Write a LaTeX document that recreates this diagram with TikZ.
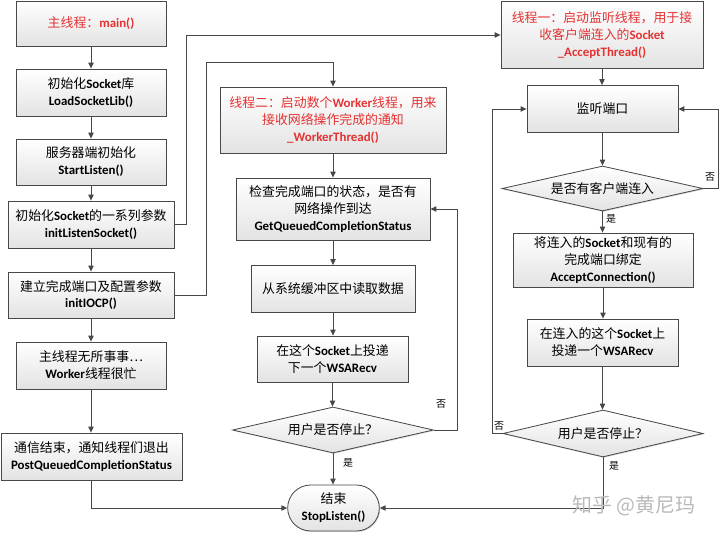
\documentclass[tikz,border=0pt]{standalone}
\usepackage{fontspec}
\setmainfont{Noto Sans CJK SC}
\newfontfamily\carl{Carlito}
\usetikzlibrary{shapes.geometric,shapes.misc,arrows.meta,shadows}

\definecolor{redtxt}{RGB}{228,50,50}
\definecolor{edge}{RGB}{72,72,72}
\newcommand{\en}[1]{{\carl\bfseries #1}}

\tikzset{
  box/.style={draw=edge, line width=0.7pt, top color=white, bottom color=gray!22,
    align=center, inner sep=1pt, font={\fontsize{11}{14.5}\selectfont},
    drop shadow={shadow xshift=0.8pt, shadow yshift=-0.8pt, fill=black, opacity=0.15}},
  wh/.style 2 args={minimum width=#1*0.03cm, minimum height=#2*0.03cm},
  dia/.style={box, diamond, aspect=4.5, inner sep=0pt},
  term/.style={box, rounded rectangle},
  conn/.style={draw=edge, line width=0.7pt, ->},
  lbl/.style={font={\fontsize{8.5}{10}\selectfont}, inner sep=0pt}
}

\begin{document}
\begin{tikzpicture}[x=0.03cm,y=-0.03cm,>={Triangle[length=5pt,width=4.5pt]}]
  \useasboundingbox (0,0) rectangle (720,533);

  % main thread
  \node[box, wh={150}{45}, text=redtxt] (main) at (91,23.5) {主线程：\en{main()}};
  \node[box, wh={150}{47}] (lib) at (91,92.5) {初始化\en{Socket}库\\\en{LoadSocketLib()}};
  \node[box, wh={150}{46}] (start) at (91,162) {服务器端初始化\\\en{StartListen()}};
  \node[box, wh={166}{47}] (initsk) at (91,224.5) {初始化\en{Socket}的一系列参数\\\en{initListenSocket()}};
  \node[box, wh={166}{46}] (iocp) at (91,295) {建立完成端口及配置参数\\\en{initIOCP()}};
  \node[box, wh={150}{47}] (idle) at (91,365.5) {主线程无所事事…\\\en{Worker}线程很忙};
  \node[box, wh={181}{47}] (post) at (91.5,456.5) {通信结束，通知线程们退出\\\en{PostQueuedCompletionStatus}};

  % worker thread
  \node[box, wh={226}{66}, text=redtxt] (worker) at (333,120) {线程二：启动数个\en{Worker}线程，用来\\接收网络操作完成的通知\\\en{\_WorkerThread()}};
  \node[box, wh={194}{62}] (getq) at (333,209) {检查完成端口的状态，是否有\\网络操作到达\\\en{GetQueuedCompletionStatus}};
  \node[box, wh={164}{47}] (read) at (333,289) {从系统缓冲区中读取数据};
  \node[box, wh={151}{46}] (recv) at (332.5,359) {在这个\en{Socket}上投递\\下一个\en{WSARecv}};
  \node[dia, wh={201}{46}] (stop) at (333,430) {用户是否停止？};
  \node[term, wh={94}{46}] (end) at (333.5,508) {结束\\\en{StopListen()}};

  % accept thread
  \node[box, wh={202}{67}, text=redtxt] (accept) at (602,35) {线程一：启动监听线程，用于接\\收客户端连入的\en{Socket}\\\en{\_AcceptThread()}};
  \node[box, wh={151}{47}] (port) at (602.5,109) {监听端口};
  \node[dia, wh={201}{45}] (conn) at (602.5,188.5) {是否有客户端连入};
  \node[box, wh={180}{54}] (bind) at (603,260) {将连入的\en{Socket}和现有的\\完成端口绑定\\\en{AcceptConnection()}};
  \node[box, wh={151}{47}] (recv2) at (602.5,342.5) {在连入的这个\en{Socket}上\\投递一个\en{WSARecv}};
  \node[dia, wh={200}{47}] (stop2) at (603,433.5) {用户是否停止？};

  % straight arrows
  \foreach \a/\b in {main/lib,lib/start,start/initsk,initsk/iocp,iocp/idle,idle/post,
      worker/getq,getq/read,read/recv,recv/stop,stop/end,
      accept/port,port/conn,conn/bind,bind/recv2,recv2/stop2}{
    \draw[conn] (\a.south) -- (\a.south |- \b.north);
  }

  % start the threads
  \coordinate (wtop) at (333,62);
  \draw[conn] (initsk.east) -- ++(12,0) |- (accept.west);
  \draw[conn] (iocp.east) -- ++(32,0) |- (wtop) -- (worker.north);

  % loops back
  \draw[conn] (stop.east) -- ++(23,0) |- (getq.east);
  \draw[conn] (conn.east) -- ++(15,0) |- (port.east);
  \draw[conn] (stop2.west) -- ++(-10,0) |- (port.west);

  % to the end
  \draw[conn] (post.south) |- (end.west);
  \draw[conn] (stop2.south) |- (end.east);

  \node[lbl] (no1) at (441,404) {否};
  \node[lbl] (yes1) at (348,463) {是};
  \node[lbl] (no2) at (710,177) {否};
  \node[lbl] (yes2) at (611,219) {是};
  \node[lbl] (no3) at (499,426) {否};
  \node[lbl] (yes3) at (614,466) {是};

  \node[text=gray!55, font={\fontsize{17}{20}\selectfont}] (mark) at (634,506) {知乎 @黄尼玛};
\end{tikzpicture}
\end{document}
